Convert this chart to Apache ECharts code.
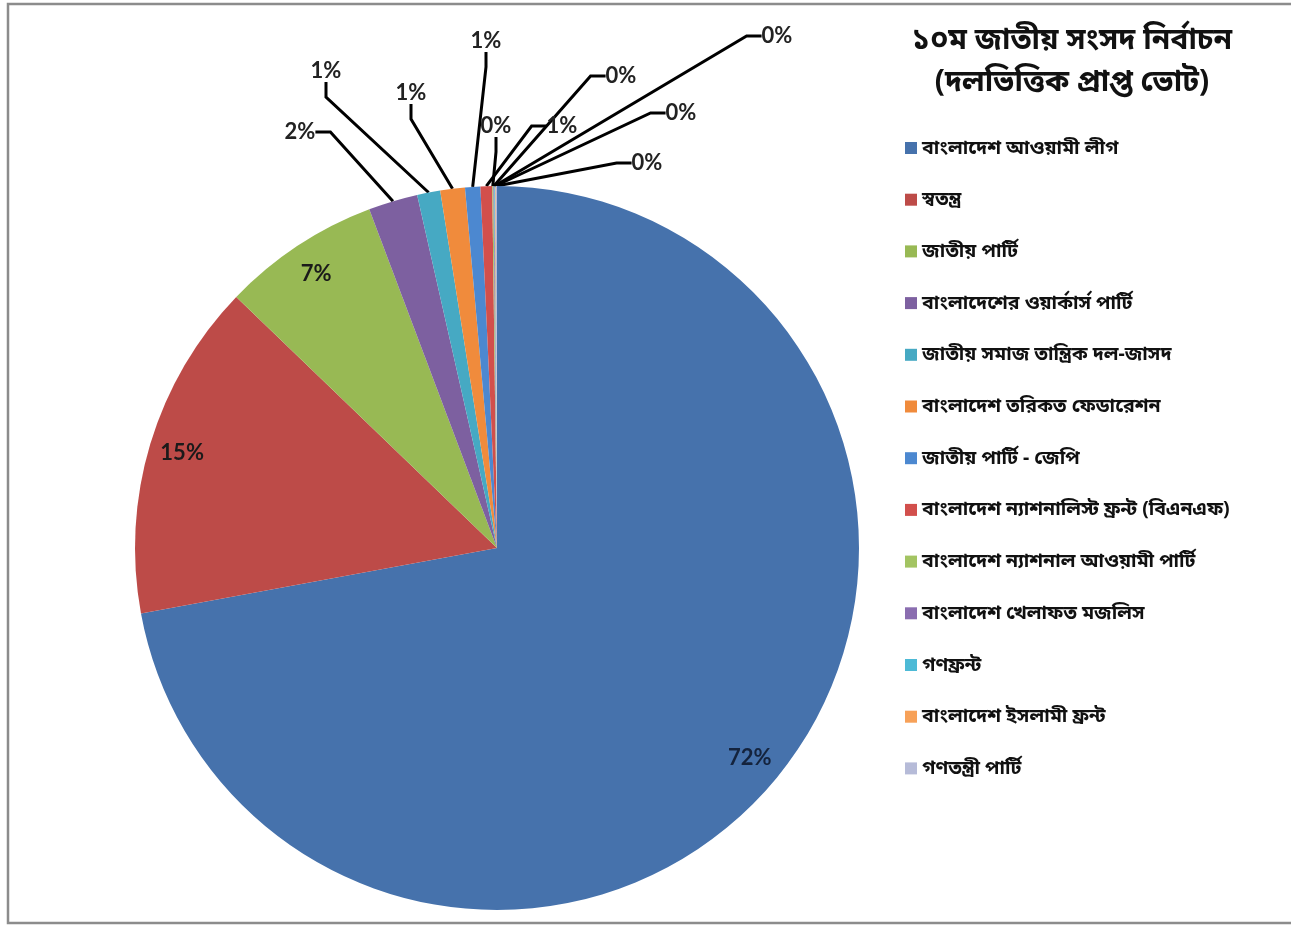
<!DOCTYPE html>
<html>
<head>
<meta charset="utf-8">
<script src="https://cdn.jsdelivr.net/npm/echarts@6/dist/echarts.min.js"></script>
<style>
html,body{margin:0;padding:0;background:#fff;}
#c{width:1291px;height:927px;}
</style>
</head>
<body>
<div id="c"></div>
<script>
// ---- data ----
const titleLines = ['১০ম জাতীয় সংসদ নির্বাচন', '(দলভিত্তিক প্রাপ্ত ভোট)'];
const parties = [
  'বাংলাদেশ আওয়ামী লীগ',
  'স্বতন্ত্র',
  'জাতীয় পার্টি',
  'বাংলাদেশের ওয়ার্কার্স পার্টি',
  'জাতীয় সমাজ তান্ত্রিক দল-জাসদ',
  'বাংলাদেশ তরিকত ফেডারেশন',
  'জাতীয় পার্টি - জেপি',
  'বাংলাদেশ ন্যাশনালিস্ট ফ্রন্ট (বিএনএফ)',
  'বাংলাদেশ ন্যাশনাল আওয়ামী পার্টি',
  'বাংলাদেশ খেলাফত মজলিস',
  'গণফ্রন্ট',
  'বাংলাদেশ ইসলামী ফ্রন্ট',
  'গণতন্ত্রী পার্টি'
];
const voteShare = [72.1, 15.1, 7.06, 2.2, 1.03, 1.1, 0.68, 0.52, 0.05, 0.04, 0.03, 0.03, 0.06];

// ---- styles ----
const colors = ['#4672AC', '#BD4B48', '#98B954', '#7D60A0', '#46A9C3', '#F08B3C',
                '#4C88D0', '#D24F4C', '#A3C462', '#8A6DB0', '#4DBAD6', '#F7A158', '#B6BBD8'];
const CX = 497, CY = 548, R = 362;
// outside label anchor points (styling for small slices, index -> [x, y])
const outsideLabelSpots = {
  3: [300, 132], 4: [326, 71], 5: [411, 93], 6: [486, 41], 7: [562, 126],
  8: [496, 126], 9: [621, 76], 10: [777, 36], 11: [681, 113], 12: [647, 163]
};
const numFont = 'Lato, "Open Sans", sans-serif';
const bnFont = '"Noto Sans", "Noto Sans Bengali", sans-serif';

const pct = p => Math.round(p.percent) + '%';
const mainData = parties.map((n, i) => ({
  name: n, value: voteShare[i],
  label: { show: i >= 3 },
  labelLine: { show: i >= 3 }
}));
const innerData = parties.map((n, i) => ({
  name: n, value: voteShare[i],
  label: { show: i < 3, color: i === 0 ? '#14233d' : '#1a1a1a' }
}));

const chart = echarts.init(document.getElementById('c'));
chart.setOption({
  animation: false,
  color: colors,
  title: {
    text: titleLines.join('\n'),
    left: 1067, top: 14, textAlign: 'center',
    textStyle: { fontFamily: bnFont, fontSize: 30, fontWeight: 'bold', lineHeight: 42, color: '#111' }
  },
  legend: {
    orient: 'vertical', left: 900, top: 131,
    icon: 'rect', itemWidth: 12, itemHeight: 12, itemGap: 27.7,
    data: parties,
    textStyle: { fontFamily: bnFont, fontSize: 19.5, fontWeight: 'bold', lineHeight: 24, color: '#111' }
  },
  graphic: [{
    type: 'rect', shape: { x: 8, y: 4, width: 1300, height: 919 },
    style: { fill: 'none', stroke: '#8c8c8c', lineWidth: 2.5 }, silent: true, z: -1
  }],
  series: [{
    type: 'pie', center: [CX, CY], radius: [0, R],
    startAngle: 90, clockwise: true,
    avoidLabelOverlap: false,
    itemStyle: { borderWidth: 0 },
    emphasis: { disabled: true },
    label: {
      position: 'outside', formatter: pct,
      fontFamily: numFont, fontSize: 22, fontWeight: 'bold', color: '#222'
    },
    labelLine: { show: true, length: 20, length2: 15, lineStyle: { color: '#000', width: 3 } },
    labelLayout: function (p) {
      const s = outsideLabelSpots[p.dataIndex];
      if (!s) return {};
      return { x: s[0], y: s[1], align: 'center', verticalAlign: 'middle' };
    },
    data: mainData
  }, {
    type: 'pie', center: [CX, CY], radius: [R * 0.8, R],
    startAngle: 90, clockwise: true, silent: true,
    itemStyle: { color: 'rgba(0,0,0,0)', borderWidth: 0 },
    emphasis: { disabled: true },
    label: {
      position: 'inside', formatter: pct,
      fontFamily: numFont, fontSize: 22, fontWeight: 'bold'
    },
    labelLine: { show: false },
    data: innerData
  }]
});
</script>
</body>
</html>
